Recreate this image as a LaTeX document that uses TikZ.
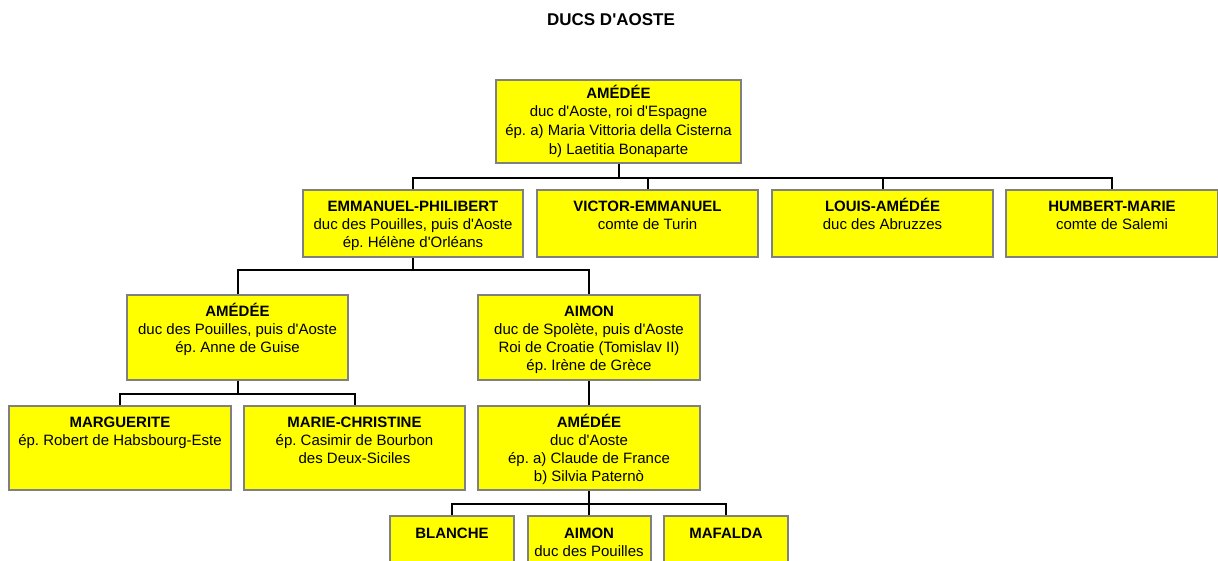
\documentclass[tikz,border=0pt]{standalone}
\usepackage{fontspec}
\setmainfont{Liberation Sans}[Ligatures=TeXOff]
\frenchspacing
\definecolor{boxyellow}{HTML}{FFFF00}
\definecolor{boxgray}{HTML}{808080}
\newcommand{\famcard}[4]{\parbox[c][#2pt][t]{#1pt}{\centering\frenchspacing\rule{0pt}{#3pt}#4\par}}
\begin{document}
\begin{tikzpicture}[x=1pt,y=-1pt,
  card/.style={draw=boxgray,fill=boxyellow,line width=2pt,inner sep=0pt,anchor=north west,font=\fontsize{15}{18}\selectfont},
  conn/.style={draw=black,line width=2pt},
  titlestyle/.style={font=\fontsize{17}{20}\selectfont\bfseries,anchor=base,inner sep=0pt}]
\useasboundingbox (0,0) rectangle (1218,560);
\clip (0,0) rectangle (1218,560);

\node[titlestyle] (title) at (611,25) {DUCS D'AOSTE};

% row 1
\node[card] (a1) at (495,79) {\famcard{245}{83}{18}{\fontsize{15}{18.7}\selectfont\textbf{AMÉDÉE}\\duc d'Aoste, roi d'Espagne\\ép. a) Maria Vittoria della Cisterna\\b) Laetitia Bonaparte}};

% row 2
\node[card] (ep) at (302,189) {\famcard{220}{67}{21}{\textbf{EMMANUEL-PHILIBERT}\\duc des Pouilles, puis d'Aoste\\ép. Hélène d'Orléans}};
\node[card] (ve) at (536,189) {\famcard{221}{67}{21}{\textbf{VICTOR-EMMANUEL}\\comte de Turin}};
\node[card] (la) at (771,189) {\famcard{221}{67}{21}{\textbf{LOUIS-AMÉDÉE}\\duc des Abruzzes}};
\node[card] (hm) at (1005,189) {\famcard{212}{67}{21}{\textbf{HUMBERT-MARIE}\\comte de Salemi}};

% row 3
\node[card] (a2) at (126,294) {\famcard{221}{85}{21}{\textbf{AMÉDÉE}\\duc des Pouilles, puis d'Aoste\\ép. Anne de Guise}};
\node[card] (aimon) at (477,294) {\famcard{222}{85}{21}{\textbf{AIMON}\\duc de Spolète, puis d'Aoste\\Roi de Croatie (Tomislav II)\\ép. Irène de Grèce}};

% row 4
\node[card] (marg) at (8,405) {\famcard{222}{84}{21}{\textbf{MARGUERITE}\\ép. Robert de Habsbourg-Este}};
\node[card] (mc) at (243,405) {\famcard{221}{84}{21}{\textbf{MARIE-CHRISTINE}\\ép. Casimir de Bourbon\\des Deux-Siciles}};
\node[card] (a3) at (477,405) {\famcard{222}{84}{21}{\textbf{AMÉDÉE}\\duc d'Aoste\\ép. a) Claude de France\\b) Silvia Paternò}};

% row 5
\node[card] (blanche) at (389,515) {\famcard{124}{84}{22}{\textbf{BLANCHE}}};
\node[card] (aimon2) at (526.5,515) {\famcard{123}{84}{22}{\textbf{AIMON}\\duc des Pouilles}};
\node[card] (mafalda) at (663,515) {\famcard{124}{84}{22}{\textbf{MAFALDA}}};

% connectors
\draw[conn] (a1.south) -- ++(0,14) coordinate (j1);
\draw[conn] (j1) -| (ep.north);
\draw[conn] (j1) -| (ve.north);
\draw[conn] (j1) -| (la.north);
\draw[conn] (j1) -| (hm.north);

\draw[conn] (ep.south) -- ++(0,12) coordinate (j2);
\draw[conn] (j2) -| (a2.north);
\draw[conn] (j2) -| (aimon.north);

\draw[conn] (a2.south) -- ++(0,13) coordinate (j3);
\draw[conn] (j3) -| (marg.north);
\draw[conn] (j3) -| (mc.north);

\draw[conn] (aimon.south) -- (a3.north);

\draw[conn] (a3.south) -- ++(0,13) coordinate (j4);
\draw[conn] (j4) -| (blanche.north);
\draw[conn] (j4) -| (aimon2.north);
\draw[conn] (j4) -| (mafalda.north);
\end{tikzpicture}
\end{document}
